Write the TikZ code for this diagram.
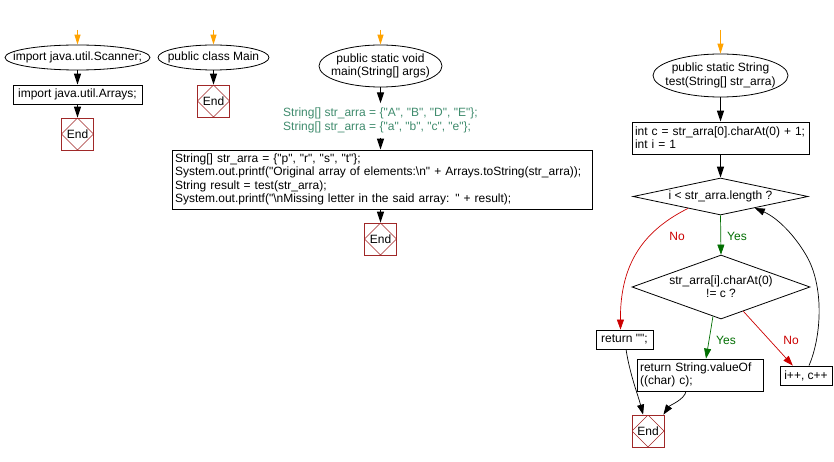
\documentclass[tikz,border=0pt]{standalone}
\usepackage{fontspec}
\setmainfont{Liberation Sans}[Ligatures=TeXOff]
\usetikzlibrary{shapes.geometric,arrows.meta,calc}
\definecolor{orng}{RGB}{255,163,0}
\definecolor{endred}{RGB}{160,40,40}
\definecolor{gtxt}{RGB}{64,140,110}
\definecolor{yesg}{RGB}{0,110,0}
\definecolor{nor}{RGB}{204,0,0}
\tikzset{
  base/.style={font=\fontsize{12}{13.3}\selectfont, inner sep=0pt},
  term/.style={base, ellipse, draw, line width=0.8pt},
  box/.style={base, rectangle, draw, line width=0.8pt, inner xsep=3pt},
  decision/.style={base, diamond, draw, line width=0.8pt},
  endbox/.style={base, rectangle, draw=endred, line width=0.8pt, minimum size=32pt,
    path picture={\draw[endred, line width=0.6pt] (path picture bounding box.north) -- (path picture bounding box.east) -- (path picture bounding box.south) -- (path picture bounding box.west) -- cycle;}},
  lbl/.style={base, align=center},
  arr/.style={line width=1.2pt, -{Triangle[length=11pt,width=7pt]}},
  startarr/.style={orng, line width=1pt, -{Triangle[length=10pt,width=6pt]}},
  thin/.style={line width=0.7pt, -{Triangle[length=10pt,width=7pt]}},
}
\begin{document}
\begin{tikzpicture}[x=1pt,y=-1pt]
\path[use as bounding box, fill=white] (0,0) rectangle (834,462);

% ---- column 1
\coordinate (s1) at (77.5,30);
\node[term, minimum width=145, minimum height=25, label={[lbl]center:import java.util.Scanner;}] (e1) at (77.5,57.5) {};
\node[box, minimum width=129, minimum height=19] (b1) at (77.5,94.5) {import java.util.Arrays;};
\node[endbox] (end1) at (77.5,134) {End};
\draw[startarr] (s1) -- (e1.north);
\draw[arr] (e1.south) -- (b1.north);
\draw[arr] (b1.south) -- (end1.north);

% ---- column 2
\coordinate (s2) at (213.5,30);
\node[term, minimum width=111, minimum height=25, label={[lbl]center:public class Main}] (e2) at (213.5,57.5) {};
\node[endbox] (end2) at (213.5,101) {End};
\draw[startarr] (s2) -- (e2.north);
\draw[arr] (e2.south) -- (end2.north);

% ---- column 3
\coordinate (s3) at (380.5,30);
\node[term, minimum width=123, minimum height=42, label={[lbl]center:public static void\\main(String[] args)}] (e3) at (380.5,66) {};
\node[base, text=gtxt, align=left, anchor=west, minimum height=34] (g) at (283,120.5) {String[] str\_arra = \{"A", "B", "D", "E"\};\\String[] str\_arra = \{"a", "b", "c", "e"\};};
\node[box, minimum width=420, minimum height=59, text width=414, align=left] (b2) at (382,179.5) {String[] str\_arra = \{"p", "r", "s", "t"\};\\System.out.printf("Original array of elements:\textbackslash n" + Arrays.toString(str\_arra));\\String result = test(str\_arra);\\System.out.printf("\textbackslash nMissing letter in the said array: " + result);};
\node[endbox] (end3) at (380.5,239) {End};
\draw[startarr] (s3) -- (e3.north);
\draw[arr] (e3.south) -- (e3.south |- g.north);
\draw[arr] (e3.south |- g.south) -- (e3.south |- b2.north);
\draw[arr] (b2.south -| end3.north) -- (end3.north);

% ---- column 4
\coordinate (s4) at (720.5,30);
\node[term, minimum width=135, minimum height=43, label={[lbl]center:public static String\\test(String[] str\_arra)}] (e4) at (720.5,75.5) {};
\node[box, minimum width=177, minimum height=32, text width=171, align=left] (b3) at (720.5,138) {int c = str\_arra[0].charAt(0) + 1;\\int i = 1};
\node[decision, minimum width=175, minimum height=37, label={[lbl]center:i < str\_arra.length ?}] (d1) at (720.5,196.5) {};
\node[decision, minimum width=178, minimum height=64, label={[lbl]center:str\_arra[i].charAt(0)\\!= c ?}] (d2) at (721,287) {};
\node[box, minimum width=57, minimum height=19] (rq) at (624.5,339.5) {return "";};
\node[box, minimum width=126, minimum height=32, text width=120, align=left] (rs) at (700,375) {return String.valueOf\\((char) c);};
\node[box, minimum width=52, minimum height=19] (ip) at (806,375.5) {i++, c++};
\node[endbox] (end4) at (648,431) {End};

\node[base, text=yesg] (y1) at (737,236) {Yes};
\node[base, text=nor] (n1) at (677,236) {No};
\node[base, text=yesg] (y2) at (726,340) {Yes};
\node[base, text=nor] (n2) at (791,340) {No};

\draw[startarr] (s4) -- (e4.north);
\draw[arr] (e4.south) -- (b3.north);
\draw[arr] (b3.south) -- (d1.north);
\draw[thin, yesg] (d1.south) -- (d2.north);
\draw[thin, nor] ($(d1.south)!0.37!(d1.west)$) .. controls (645,230) and (620,262) .. ($(rq.north)+(-4,0)$);
\draw[thin, yesg] ($(d2.south)!0.09!(d2.west)$) -- ($(rs.north)+(6,0)$);
\draw[thin, nor] ($(d2.south)!0.25!(d2.east)$) -- ($(ip.north west)!0.25!(ip.north east)$);
\draw[thin, black] ($(ip.north)+(3,0)$) .. controls (822,335) and (824,285) .. (806,255) .. controls (795,236) and (778,218) .. ($(d1.south)!0.39!(d1.east)$);
\draw[thin, black] ($(rq.south)+(1.5,0)$) .. controls (630,375) and (638,395) .. ($(end4.north west)!0.35!(end4.north east)$);
\draw[thin, black] ($(rs.south west)!0.39!(rs.south east)$) .. controls (684,400) and (670,405) .. ($(end4.north west)!0.97!(end4.north east)$);
\end{tikzpicture}
\end{document}
